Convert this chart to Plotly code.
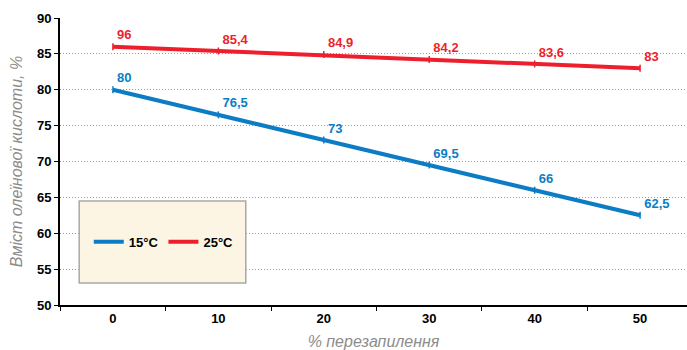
import plotly.graph_objects as go

# Overheating percentage (x) and oleic acid content (%) for two temperatures
overheat = [0, 10, 20, 30, 40, 50]
oleic_15c = [80, 76.5, 73, 69.5, 66, 62.5]
oleic_25c = [86, 85.4, 84.9, 84.2, 83.6, 83]
labels_15c = ["80", "76,5", "73", "69,5", "66", "62,5"]
labels_25c = ["96", "85,4", "84,9", "84,2", "83,6", "83"]
y_ticks = [50, 55, 60, 65, 70, 75, 80, 85, 90]

BLUE = "#0C7DC4"
RED = "#EE1F2D"
FONT = "Liberation Sans, Arial, sans-serif"

fig = go.Figure()

for name, vals, labels, color in [
    ("15°C", oleic_15c, labels_15c, BLUE),
    ("25°C", oleic_25c, labels_25c, RED),
]:
    fig.add_trace(go.Scatter(
        x=overheat, y=vals, name=name, showlegend=False,
        mode="lines+markers+text",
        line=dict(color=color, width=4),
        marker=dict(symbol="line-ns", size=5, color=color,
                    line=dict(color=color, width=1.5)),
        text=labels, textposition="top right",
        textfont=dict(family=FONT, size=13, color=color, weight="bold"),
        cliponaxis=False,
    ))
    # line-only legend entry
    fig.add_trace(go.Scatter(
        x=[None], y=[None], name=name, mode="lines",
        line=dict(color=color, width=4),
    ))

# Cream legend panel
fig.add_shape(type="rect", xref="x", yref="y",
              x0=-3.2, x1=12.6, y0=53.05, y1=64.5,
              fillcolor="#FDF5E3", line=dict(color="#A8A8A8", width=1.5),
              layer="between")

fig.update_layout(
    width=687, height=350,
    margin=dict(l=60, r=0, t=18, b=45),
    paper_bgcolor="white", plot_bgcolor="white",
    font=dict(family=FONT, color="black"),
    showlegend=True,
    legend=dict(orientation="h", x=0.1655, y=0.22, xanchor="center", yanchor="middle",
                bgcolor="rgba(0,0,0,0)", borderwidth=0,
                font=dict(family=FONT, size=13, color="black", weight="bold"),
                itemwidth=30, tracegroupgap=0),
    xaxis=dict(
        range=[-5.02, 54.45],
        tickvals=overheat, ticktext=[str(v) for v in overheat],
        ticks="", showgrid=False, zeroline=False,
        showline=True, linecolor="black", linewidth=2,
        tickfont=dict(family=FONT, size=13, color="black", weight="bold"),
        minor=dict(tick0=5, dtick=10, ticks="outside", ticklen=4,
                   tickcolor="black", tickwidth=1, showgrid=False),
        title=dict(text="% перезапилення", standoff=12,
                   font=dict(family=FONT, size=16, color="#8C8C8C", style="italic")),
    ),
    yaxis=dict(
        range=[50, 90], tickvals=y_ticks,
        ticks="outside", ticklen=4, tickcolor="black",
        showgrid=True, gridcolor="#9A9A9A", griddash="1px,2px", gridwidth=1,
        zeroline=False, showline=True, linecolor="black", linewidth=2,
        tickfont=dict(family=FONT, size=13, color="black", weight="bold"),
        title=dict(text="Вміст олеїнової кислоти, %", standoff=10,
                   font=dict(family=FONT, size=16, color="#8C8C8C", style="italic")),
    ),
)

fig.write_html("out.html")
